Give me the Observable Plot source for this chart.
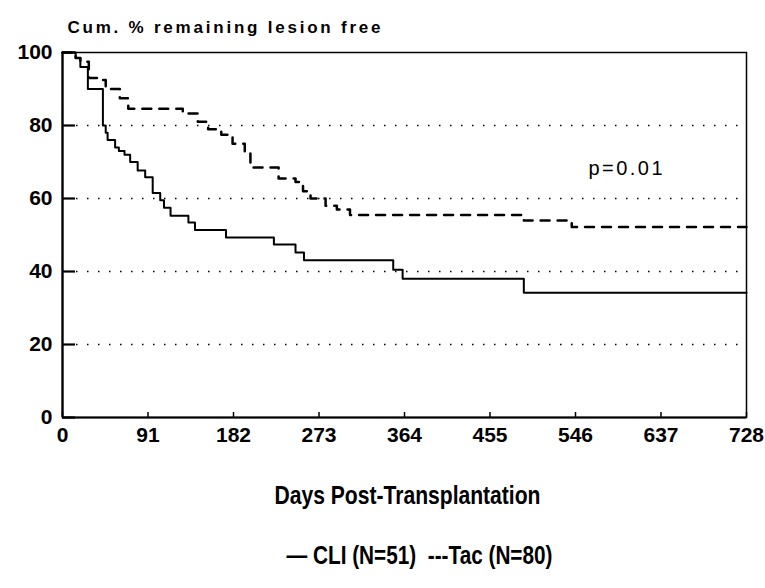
<!DOCTYPE html>
<html><head><meta charset="utf-8">
<script src="https://cdn.jsdelivr.net/npm/d3@7"></script>
<script src="https://cdn.jsdelivr.net/npm/@observablehq/plot@0.6"></script>
<style>body{margin:0;background:#fff}</style>
</head><body><div id="chart"></div>
<script>
// Kaplan-Meier steps (day, cumulative % lesion free)
const cliDays = [0,14,19,27,43,46,48,56,60,66,72,80,88,96,104,108,115,134,141,174,225,248,257,352,362,491,728];
const cliPct  = [100,98.5,96,90,80,78,76,74,73,72,70,67.7,65.8,61.5,59.5,57.5,55.3,53.4,51.4,49.3,47.4,45.2,43.1,40.5,38,34.2,34.2];
const tacDays = [0,14,19,28,40,46,61,70,128,144,155,169,181,194,200,230,248,256,264,280,292,306,491,542,728];
const tacPct  = [100,98.5,97.5,93,92.5,90,87.5,84.6,83.3,81,79,77.5,75,72.5,68.5,65.5,64.5,62,60,58,57,55.5,54,52.2,52.2];
const xTicks = [0,91,182,273,364,455,546,637,728];
const yTicks = [0,20,40,60,80,100];
const gridVals = [20,40,60,80];
const titleText = "Cum. % remaining lesion free";
const xLabel = "Days Post-Transplantation";
const legendText = "— CLI (N=51)  ---Tac (N=80)";
const pText = "p=0.01";

const cli = cliDays.map((d,i)=>({day:d, pct:cliPct[i]}));
const tac = tacDays.map((d,i)=>({day:d, pct:tacPct[i]}));

const chart = Plot.plot({
  width:765, height:588,
  marginLeft:62, marginRight:19, marginTop:52, marginBottom:171,
  style:{fontFamily:"'Liberation Sans', Arial, sans-serif", background:"#fff", color:"#000"},
  x:{domain:[0,728]},
  y:{domain:[0,100]},
  marks:[
    Plot.gridY(gridVals, {stroke:"#000", strokeOpacity:1, strokeDasharray:"1.5 9.5", strokeWidth:1.6, insetLeft:14}),
    Plot.frame({stroke:"#000", strokeWidth:1.5}),
    Plot.ruleX([0], {stroke:"#000", strokeWidth:2.2}),
    Plot.ruleY([0], {stroke:"#000", strokeWidth:2.2}),
    Plot.axisY(yTicks, {tickSize:-13, tickPadding:23, strokeWidth:2.2, fontSize:21, fontWeight:"bold", label:null}),
    Plot.axisX(xTicks, {tickSize:-5, tickPadding:15, strokeWidth:1.5, fontSize:21, fontWeight:"bold", label:null}),
    Plot.line(cli, {x:"day", y:"pct", curve:"step-after", stroke:"#000", strokeWidth:2}),
    Plot.line(tac, {x:"day", y:"pct", curve:"step-after", stroke:"#000", strokeWidth:2.5, strokeDasharray:"9 8"}),
    Plot.text([titleText], {frameAnchor:"top-left", dx:5, dy:-32, textAnchor:"start", fontSize:17, fontWeight:"bold"}),
    Plot.text([pText], {frameAnchor:"top-right", dx:-84, dy:108, textAnchor:"end", fontSize:20}),
    Plot.text([xLabel], {frameAnchor:"bottom", dy:86, dx:3, fontSize:25, fontWeight:"bold"}),
    Plot.text([legendText], {frameAnchor:"bottom", dy:146, dx:15, fontSize:25, fontWeight:"bold"})
  ]
});
document.getElementById("chart").appendChild(chart);
d3.select(chart).selectAll("text").each(function(){
  const t = this.textContent, s = d3.select(this);
  if (t === titleText) s.attr("textLength", 313).attr("lengthAdjust", "spacing");
  if (t === pText) s.attr("textLength", 74).attr("lengthAdjust", "spacing");
  if (t === xLabel) s.attr("textLength", 266).attr("lengthAdjust", "spacingAndGlyphs");
  if (t === legendText) s.attr("textLength", 266).attr("lengthAdjust", "spacingAndGlyphs");
});
</script>
</body></html>
